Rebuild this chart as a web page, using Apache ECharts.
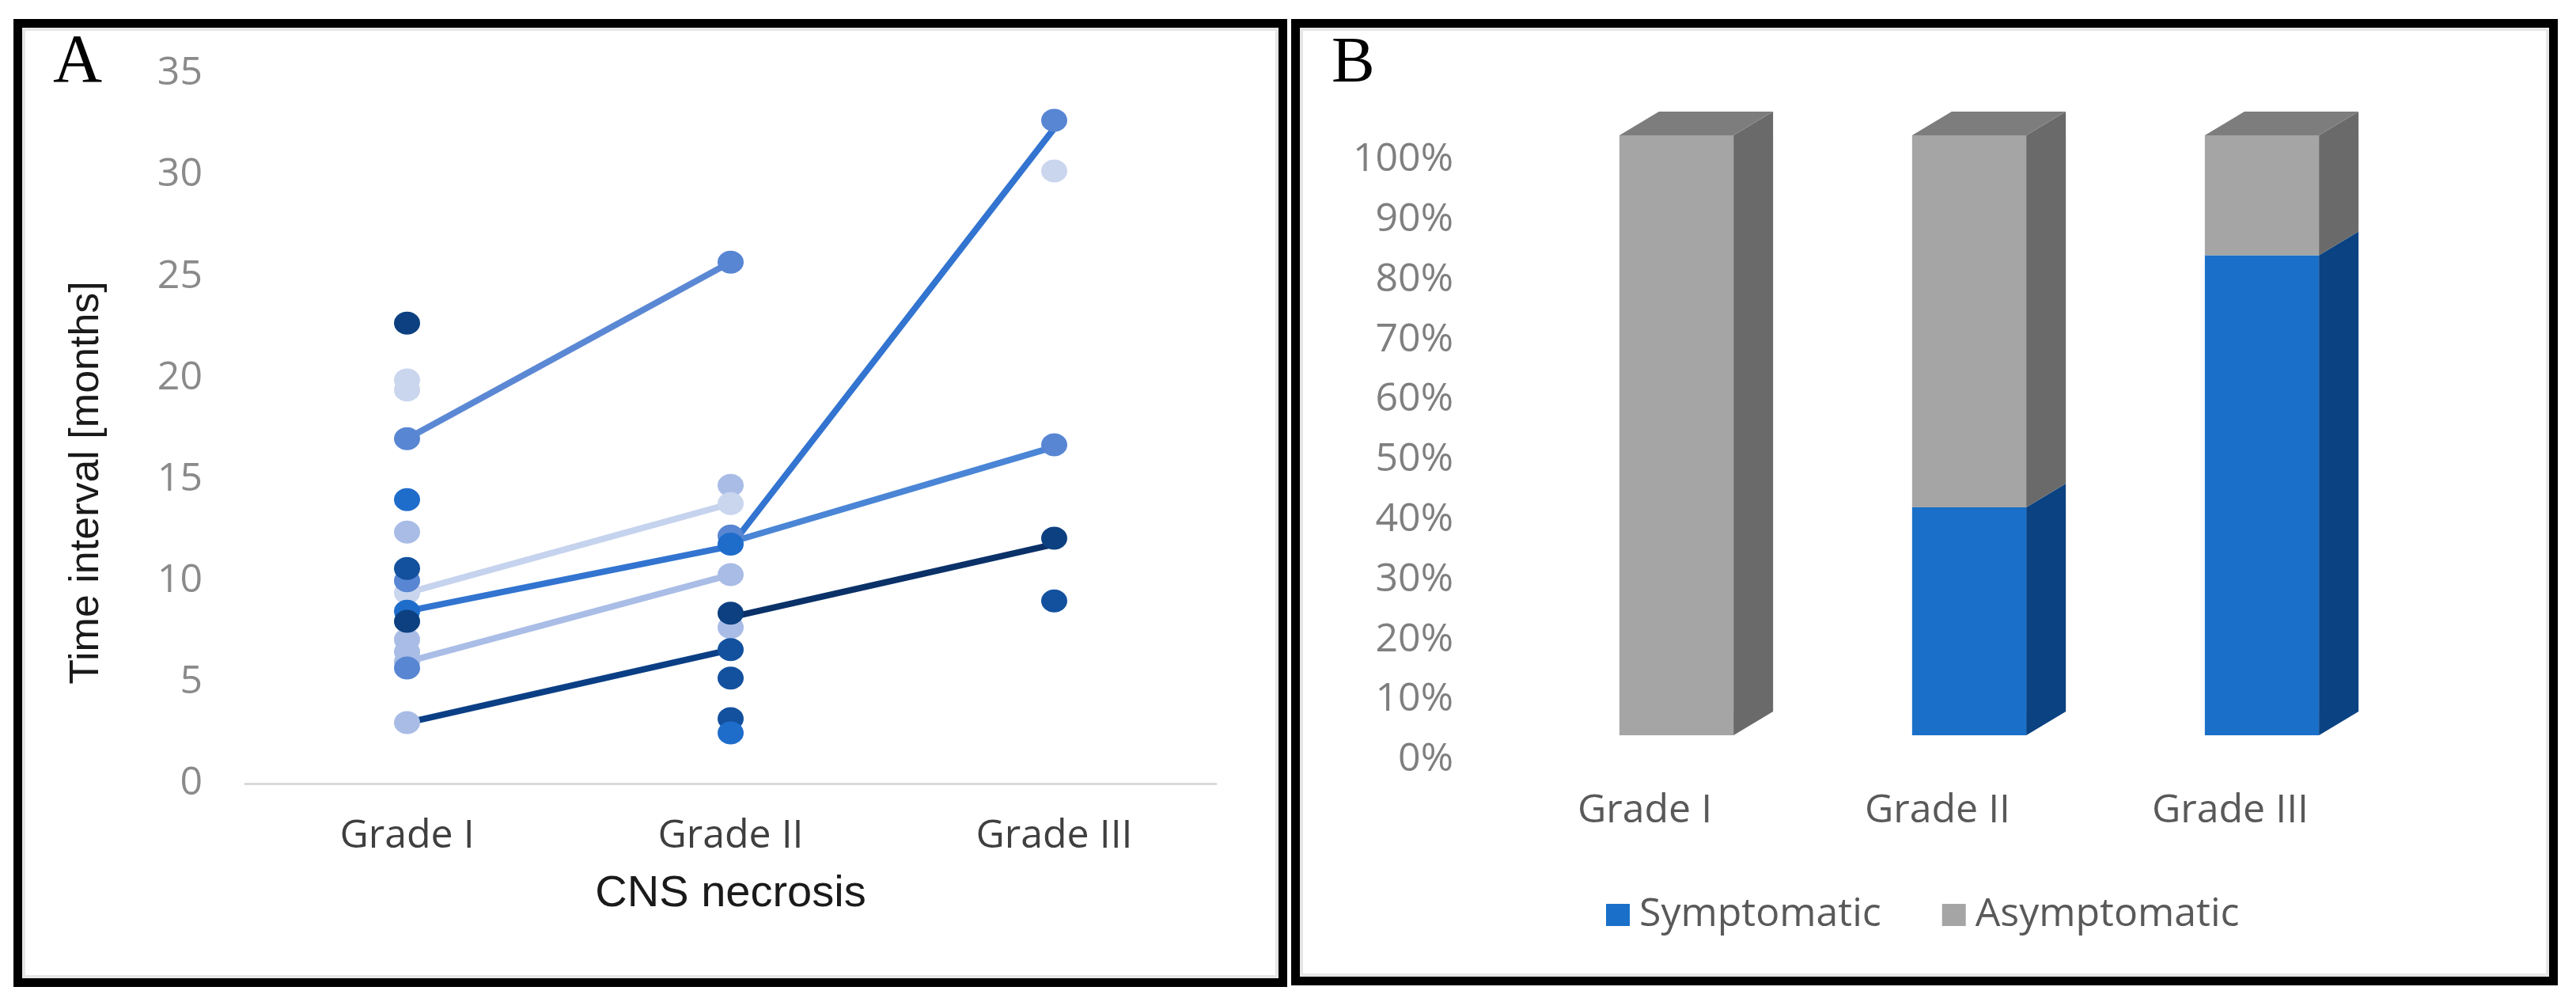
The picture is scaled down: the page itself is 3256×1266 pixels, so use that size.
<!DOCTYPE html>
<html>
<head>
<meta charset="utf-8">
<title>CNS necrosis</title>
<script src="https://cdn.jsdelivr.net/npm/echarts@6/dist/echarts.min.js"></script>
<style>
  html, body { margin: 0; padding: 0; background: #fff; }
  #chart { width: 3256px; height: 1266px; }
</style>
</head>
<body>
<div id="chart"></div>
<script>
// ---- panel A data: time interval [months] per grade ----
var gradesA = ['Grade I', 'Grade II', 'Grade III'];

// lines (one value per grade, null = no point)
var lineTopMed   = [17.0, 25.7, null];
var linePale     = [9.4, 13.8, null];
var lineBright   = [8.5, 11.7, 32.3];
var lineMedIII   = [null, 11.9, 16.6];
var lineLight    = [6.0, 10.3, null];
var lineDark     = [3.0, 6.6, null];
var lineNavyIII  = [null, 8.2, 11.8];

// scatter points grouped by colour: [grade, months]
var ptsNavy   = [['Grade I', 22.7], ['Grade I', 8.0], ['Grade II', 8.4], ['Grade III', 12.1]];
var ptsDark   = [['Grade I', 10.6], ['Grade II', 6.6], ['Grade II', 5.2], ['Grade II', 3.2], ['Grade III', 9.0]];
var ptsBright = [['Grade I', 14.0], ['Grade I', 8.5], ['Grade II', 2.5], ['Grade II', 11.8]];
var ptsMed    = [['Grade I', 17.0], ['Grade I', 10.0], ['Grade I', 5.7], ['Grade II', 25.7], ['Grade II', 12.2], ['Grade III', 32.7], ['Grade III', 16.7]];
var ptsLight  = [['Grade I', 12.4], ['Grade I', 7.1], ['Grade I', 6.5], ['Grade I', 6.0], ['Grade I', 3.0], ['Grade II', 14.7], ['Grade II', 10.3], ['Grade II', 7.7]];
var ptsPale   = [['Grade I', 19.9], ['Grade I', 19.4], ['Grade I', 9.4], ['Grade II', 13.8], ['Grade III', 30.2]];

// ---- panel B data: share of patients [%] ----
var gradesB = ['Grade I', 'Grade II', 'Grade III'];
var symptomatic  = [0, 38, 80];
var asymptomatic = [100, 62, 20];

var DX = 50, DY = 30, BAR_RATIO = 0.39;

var chart = echarts.init(document.getElementById('chart'));

function lineSeries(data, color) {
    return {
        type: 'line', xAxisIndex: 0, yAxisIndex: 0, data: data,
        symbol: 'none', z: 2, silent: true,
        lineStyle: { color: color, width: 8 }
    };
}

function scatterSeries(data, color) {
    return {
        type: 'scatter', xAxisIndex: 0, yAxisIndex: 0, data: data,
        symbolSize: [33, 29], z: 3,
        itemStyle: { color: color, opacity: 1 }
    };
}

// 3D-looking stacked bar segment (front face, side face, top face)
function bar3d(front, side, top) {
    return function (params, api) {
        var lo = api.value(1), hi = api.value(2);
        if (hi <= lo) return;
        var b = api.coord([api.value(0), lo]);
        var t = api.coord([api.value(0), hi]);
        var w = api.size([1, 0])[0] * BAR_RATIO;
        var xl = b[0] - w / 2, xr = b[0] + w / 2, yb = b[1], yt = t[1];
        var kids = [
            { type: 'rect', shape: { x: xl, y: yt, width: w, height: yb - yt }, style: { fill: front } },
            { type: 'polygon', shape: { points: [[xr, yb], [xr + DX, yb - DY], [xr + DX, yt - DY], [xr, yt]] }, style: { fill: side } }
        ];
        if (hi >= 100) {
            kids.push({ type: 'polygon', shape: { points: [[xl, yt], [xr, yt], [xr + DX, yt - DY], [xl + DX, yt - DY]] }, style: { fill: top } });
        }
        return { type: 'group', children: kids };
    };
}

var sympData = symptomatic.map(function (v, i) { return [i, 0, v]; });
var asymData = asymptomatic.map(function (v, i) { return [i, symptomatic[i], symptomatic[i] + v]; });

var tickFont = 'Open Sans';

var option = {
    backgroundColor: '#fff',
    animation: false,
    grid: [
        { left: 310, top: 93, width: 1227, height: 897 },
        { left: 1934, top: 171, width: 1110, height: 758 },
        { left: 1894, top: 202, width: 1110, height: 758 }
    ],
    xAxis: [
        {
            gridIndex: 0, type: 'category', data: gradesA,
            axisLine: { lineStyle: { color: '#d9d9d9', width: 3 } },
            axisTick: { show: false },
            axisLabel: { fontSize: 50, color: '#3f3f3f', margin: 42, fontFamily: tickFont },
            name: 'CNS necrosis', nameLocation: 'middle', nameGap: 112,
            nameTextStyle: { fontSize: 56, color: '#1a1a1a', fontFamily: 'Liberation Sans' }
        },
        { gridIndex: 1, type: 'category', data: gradesB, show: false },
        {
            gridIndex: 2, type: 'category', data: gradesB,
            axisLine: { show: false }, axisTick: { show: false },
            axisLabel: { fontSize: 50, color: '#595959', margin: 40, fontFamily: tickFont }
        }
    ],
    yAxis: [
        {
            gridIndex: 0, type: 'value', min: 0, max: 35, interval: 5,
            splitLine: { show: false }, axisLine: { show: false }, axisTick: { show: false },
            axisLabel: { fontSize: 50, color: '#8a8a8a', margin: 54, fontFamily: tickFont }
        },
        { gridIndex: 1, type: 'value', min: 0, max: 100, show: false },
        {
            gridIndex: 2, type: 'value', min: 0, max: 100, interval: 10,
            splitLine: { show: false }, axisLine: { show: false }, axisTick: { show: false },
            axisLabel: { fontSize: 50, color: '#7f7f7f', margin: 57, fontFamily: tickFont, formatter: '{value}%' }
        }
    ],
    legend: {
        data: ['Symptomatic', 'Asymptomatic'],
        left: 2025, top: 1126,
        icon: 'rect', itemWidth: 30, itemHeight: 28, itemGap: 77,
        textStyle: { fontSize: 50, color: '#595959', fontFamily: tickFont, padding: [0, 0, 0, 7] }
    },
    graphic: [
        { type: 'rect', shape: { x: 22.5, y: 29.5, width: 1599, height: 1212 }, style: { fill: null, stroke: '#000', lineWidth: 11 } },
        { type: 'rect', shape: { x: 30, y: 37, width: 1584, height: 1197 }, style: { fill: null, stroke: '#e6e6e6', lineWidth: 4 } },
        { type: 'rect', shape: { x: 1637.5, y: 29.5, width: 1590, height: 1210 }, style: { fill: null, stroke: '#000', lineWidth: 11 } },
        { type: 'rect', shape: { x: 1645, y: 37, width: 1575, height: 1195 }, style: { fill: null, stroke: '#e6e6e6', lineWidth: 4 } },
        { type: 'text', x: 67, y: 123, style: { text: 'A', font: '86px "Liberation Serif"', fill: '#000', textVerticalAlign: 'bottom' } },
        { type: 'text', x: 1683, y: 122, style: { text: 'B', font: '82px "Liberation Serif"', fill: '#000', textVerticalAlign: 'bottom' } },
        {
            type: 'text', x: 110, y: 610, rotation: Math.PI / 2,
            style: { text: 'Time interval [months]', font: '52px "Liberation Sans"', fill: '#1a1a1a', textAlign: 'center', textVerticalAlign: 'middle' }
        }
    ],
    series: [
        lineSeries(lineDark, '#0b3f85'),
        lineSeries(lineNavyIII, '#0a3168'),
        lineSeries(lineLight, '#a9bde6'),
        lineSeries(linePale, '#c6d3ee'),
        lineSeries(lineMedIII, '#4a85d6'),
        lineSeries(lineBright, '#3274d0'),
        lineSeries(lineTopMed, '#5b88d4'),
        scatterSeries(ptsLight, '#a8bce6'),
        scatterSeries(ptsPale, '#cad6ee'),
        scatterSeries(ptsMed, '#5886d3'),
        scatterSeries(ptsDark, '#13519e'),
        scatterSeries(ptsBright, '#1f6dcb'),
        scatterSeries(ptsNavy, '#0c4080'),
        {
            name: 'Symptomatic', type: 'custom', xAxisIndex: 1, yAxisIndex: 1,
            data: sympData, encode: { x: 0, y: [1, 2] },
            itemStyle: { color: '#1a70c8' },
            renderItem: bar3d('#1a70c8', '#0a4282', '#0a4282')
        },
        {
            name: 'Asymptomatic', type: 'custom', xAxisIndex: 1, yAxisIndex: 1,
            data: asymData, encode: { x: 0, y: [1, 2] },
            itemStyle: { color: '#a5a5a5' },
            renderItem: bar3d('#a5a5a5', '#6a6a6a', '#7d7d7d')
        }
    ]
};

chart.setOption(option);
</script>
</body>
</html>
